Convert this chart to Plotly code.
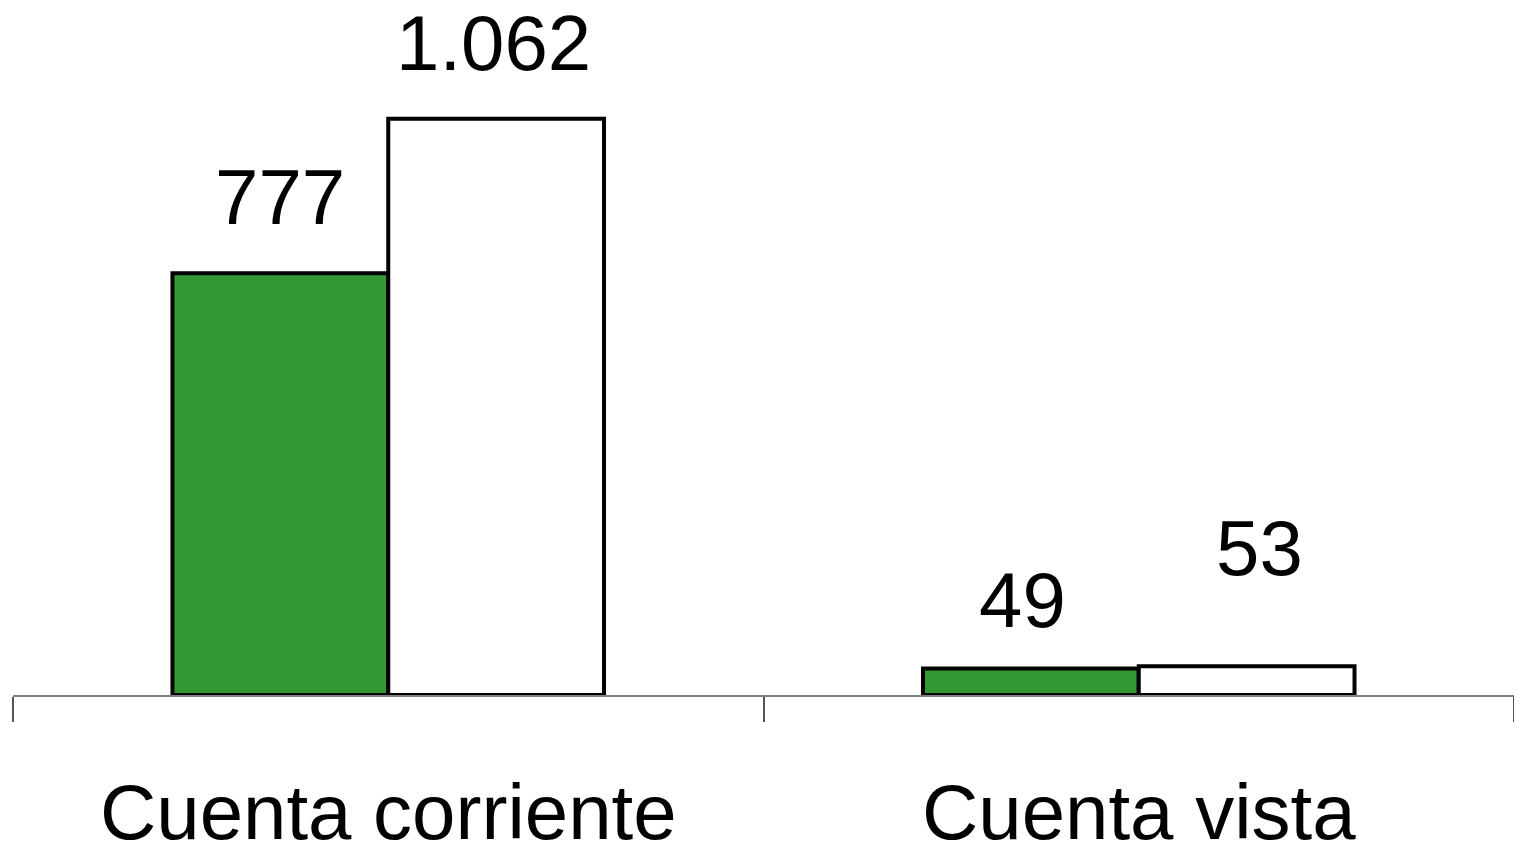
import plotly.graph_objects as go

categories = ["Cuenta corriente", "Cuenta vista"]
serie_a = [777, 49]
serie_b = [1062, 53]
labels_a = ["777", "49"]
labels_b = ["1.062", "53"]

GREEN = "#339933"
FONT = "Liberation Sans, Arial, sans-serif"

fig = go.Figure()
fig.add_trace(go.Bar(x=categories, y=serie_a, marker=dict(color=GREEN, line=dict(color="black", width=4)),
                     showlegend=False, hoverinfo="skip"))
fig.add_trace(go.Bar(x=categories, y=serie_b, marker=dict(color="white", line=dict(color="black", width=4)),
                     showlegend=False, hoverinfo="skip"))

# label styling offsets (pixels)
shift_a = [(0, 30), (-8, 22)]
shift_b = [(-2, 30), (14, 72)]
for i, c in enumerate(categories):
    fig.add_annotation(x=c, y=serie_a[i], text=labels_a[i], showarrow=False, yanchor="bottom",
                       xshift=-108 + shift_a[i][0], yshift=shift_a[i][1],
                       font=dict(size=78, color="black", family=FONT))
    fig.add_annotation(x=c, y=serie_b[i], text=labels_b[i], showarrow=False, yanchor="bottom",
                       xshift=107 + shift_b[i][0], yshift=shift_b[i][1],
                       font=dict(size=78, color="black", family=FONT))

fig.update_layout(
    width=1522, height=845,
    margin=dict(l=5, r=16, t=0, b=158, autoexpand=False),
    barmode="group", bargap=0.425, bargroupgap=0,
    plot_bgcolor="white", paper_bgcolor="white",
    font=dict(family=FONT, color="black"),
)
fig.update_xaxes(
    automargin=False,
    showline=True, linecolor="#808080", linewidth=2,
    ticks="outside", tickson="boundaries", ticklen=25, tickwidth=1.5, tickcolor="#555555",
    tickfont=dict(size=78, color="black", family=FONT),
    ticklabelstandoff=48, showgrid=False,
)
fig.update_yaxes(automargin=False, range=[0, 1266], visible=False, showgrid=False, zeroline=False)

fig.write_html("out.html")
